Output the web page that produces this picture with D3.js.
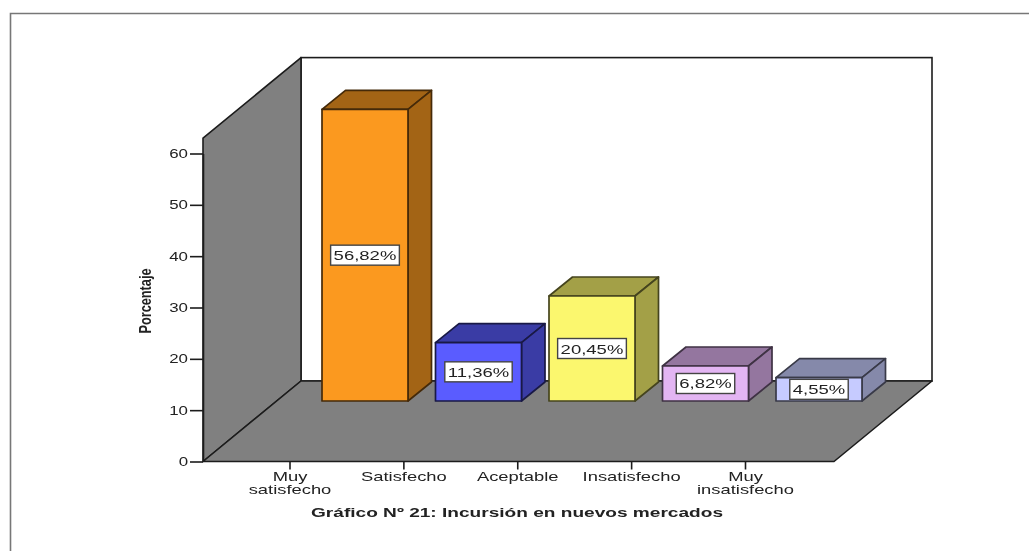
<!DOCTYPE html>
<html>
<head>
<meta charset="utf-8">
<script src="https://d3js.org/d3.v7.min.js"></script>
<style>
html,body{margin:0;padding:0;background:#fff;overflow:hidden}
svg{display:block;filter:blur(0.35px)}
text{font-family:"Liberation Sans",Arial,sans-serif;fill:#222}
</style>
</head>
<body>
<svg id="c" width="1029" height="551"></svg>
<script>
const categories = ["Muy satisfecho","Satisfecho","Aceptable","Insatisfecho","Muy insatisfecho"];
const categoryLines = [["Muy","satisfecho"],["Satisfecho"],["Aceptable"],["Insatisfecho"],["Muy","insatisfecho"]];
const values = [56.82,11.36,20.45,6.82,4.55];
const valueLabels = ["56,82%","11,36%","20,45%","6,82%","4,55%"];
const frontColors = ["#fb991f","#5a5cff","#fbf76e","#e3b5f3","#c6cbff"];
const sideColors = ["#a36415","#3a3ca5","#a3a047","#94769f","#8589aa"];
const yTicks = [0,10,20,30,40,50,60];
const yTitle = "Porcentaje";
const chartTitle = "Gráfico Nº 21: Incursión en nuevos mercados";

const svg = d3.select("#c");
const stroke = "#1c1c1c", wall = "#808080";
const widen = (t,k) => {
  const w = t.node().getComputedTextLength()*k;
  t.attr("textLength",w).attr("lengthAdjust","spacingAndGlyphs");
  return w;
};

// outer frame
svg.append("path").attr("d","M10.5,551V13.5H1029").attr("fill","none").attr("stroke","#777").attr("stroke-width",1.6);

const y = d3.scaleLinear().domain([0,60]).range([461.5,153.5]);
const yMax = 63;
const x0 = 203, wallDx = 98, wallDy = -80.5, wallWidth = 631;
const right = x0 + wallWidth;

// back wall
svg.append("rect").attr("x",x0+wallDx).attr("y",y(yMax)+wallDy).attr("width",wallWidth).attr("height",y(0)-y(yMax))
  .attr("fill","#fff").attr("stroke",stroke).attr("stroke-width",1.6);
// left wall
svg.append("polygon").attr("points",[[x0,y(yMax)],[x0+wallDx,y(yMax)+wallDy],[x0+wallDx,y(0)+wallDy],[x0,y(0)]].join(" "))
  .attr("fill",wall).attr("stroke",stroke).attr("stroke-width",1.6).attr("stroke-linejoin","round");
// floor
svg.append("polygon").attr("points",[[x0,y(0)],[x0+wallDx,y(0)+wallDy],[right+wallDx,y(0)+wallDy],[right,y(0)]].join(" "))
  .attr("fill",wall).attr("stroke",stroke).attr("stroke-width",1.6).attr("stroke-linejoin","round");

// y axis
const yAxis = d3.axisLeft(y).tickValues(yTicks).tickSize(13).tickPadding(2).tickSizeOuter(0);
const gy = svg.append("g").attr("transform",`translate(${x0},0)`).call(yAxis);
gy.select(".domain").attr("stroke",stroke).attr("stroke-width",1.6);
gy.selectAll(".tick line").attr("stroke",stroke).attr("stroke-width",1.6);
gy.selectAll(".tick text").attr("font-size",12.5).attr("font-family",'"Liberation Sans"').attr("fill","#222")
  .each(function(){ widen(d3.select(this),1.35); });

// x ticks & labels
const xTick = d3.scalePoint().domain(categories).range([290,745.5]);
const gx = svg.append("g");
categories.forEach((c,i)=>{
  gx.append("line").attr("x1",xTick(c)).attr("x2",xTick(c)).attr("y1",y(0)).attr("y2",y(0)+8).attr("stroke",stroke).attr("stroke-width",1.6);
  categoryLines[i].forEach((l,j)=>{
    const t = gx.append("text").attr("x",xTick(c)).attr("y",481+j*13).attr("text-anchor","middle").attr("font-size",13.5).text(l);
    widen(t,1.36);
  });
});

// bars
const base = 401;
const barX = d3.scalePoint().domain(categories).range([365,819]);
const barW = 86, dx = 23.5, dy = -19;
const h = v => y(0)-y(v);
const gb = svg.append("g");
categories.forEach((c,i)=>{
  const cx = barX(c), l = cx-barW/2, r = cx+barW/2, top = base-h(values[i]);
  const g = gb.append("g").attr("stroke",d3.color(sideColors[i]).darker(2.4)).attr("stroke-width",1.7).attr("stroke-linejoin","round");
  g.append("polygon").attr("fill",sideColors[i]).attr("points",[[l,top],[l+dx,top+dy],[r+dx,top+dy],[r,top]].join(" "));
  g.append("polygon").attr("fill",sideColors[i]).attr("points",[[r,top],[r+dx,top+dy],[r+dx,base+dy],[r,base]].join(" "));
  g.append("rect").attr("x",l).attr("y",top).attr("width",barW).attr("height",base-top).attr("fill",frontColors[i]);
  const my = (top+base)/2;
  const lg = gb.append("g");
  const t = lg.append("text").attr("x",cx).attr("y",my+5).attr("text-anchor","middle").attr("font-size",13.5).text(valueLabels[i]);
  const w = widen(t,1.37);
  lg.insert("rect","text").attr("x",cx-w/2-3).attr("y",my-10).attr("width",w+6).attr("height",20)
    .attr("fill","#fff").attr("stroke","#444").attr("stroke-width",1.4);
});

// y title
svg.append("text").attr("transform","translate(151,301) rotate(-90)").attr("text-anchor","middle")
  .attr("font-size",16).attr("font-weight","bold").attr("fill","#111")
  .attr("textLength",65).attr("lengthAdjust","spacingAndGlyphs").text(yTitle);
// chart title
svg.append("text").attr("x",517).attr("y",517).attr("text-anchor","middle")
  .attr("font-size",13.5).attr("font-weight","bold").attr("fill","#111")
  .attr("textLength",412).attr("lengthAdjust","spacingAndGlyphs").text(chartTitle);
</script>
</body>
</html>
